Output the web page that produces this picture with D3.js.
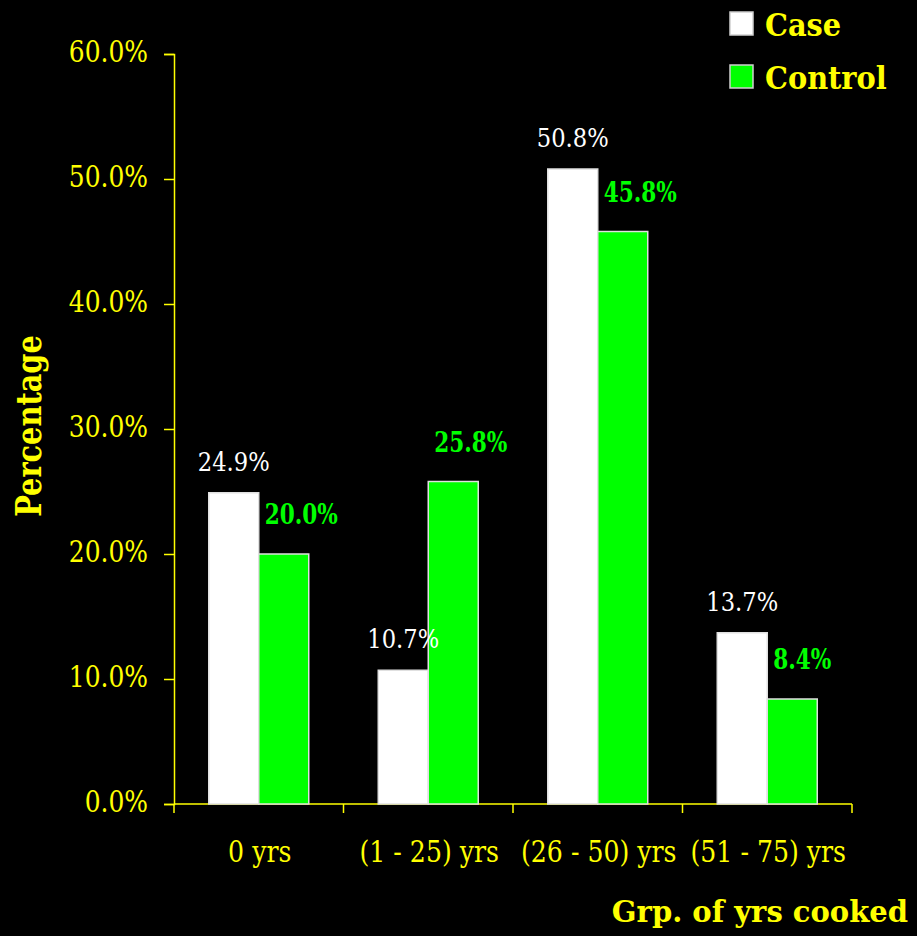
<!DOCTYPE html>
<html>
<head>
<meta charset="utf-8">
<script src="https://cdn.jsdelivr.net/npm/d3@7"></script>
<style>
  html, body { margin: 0; padding: 0; background: #000; }
</style>
</head>
<body>
<div id="chart"></div>
<script>
const categories = ["0 yrs", "(1 - 25) yrs", "(26 - 50) yrs", "(51 - 75) yrs"];
const series = ["Case", "Control"];
const caseValues = [24.9, 10.7, 50.8, 13.7];
const controlValues = [20.0, 25.8, 45.8, 8.4];
const yTicks = [0, 10, 20, 30, 40, 50, 60];

const width = 917, height = 936;
const yellow = "#ffff00";
const colors = { Case: "#ffffff", Control: "#00ff00" };
const serif = "DejaVu Serif";

// DejaVu Serif is wider than the original's Times-like face: squeeze text horizontally
function condense(sel, factor) {
  sel.each(function () {
    const w = this.getComputedTextLength();
    d3.select(this)
      .attr("textLength", w * factor)
      .attr("lengthAdjust", "spacingAndGlyphs");
  });
}

const rows = categories.map((c, i) => ({ cat: c, Case: caseValues[i], Control: controlValues[i] }));

const svg = d3.select("#chart")
  .append("svg")
  .attr("width", width)
  .attr("height", height)
  .attr("font-family", serif);

svg.append("rect").attr("width", width).attr("height", height).attr("fill", "#000");

const x = d3.scaleBand().domain(categories).range([174, 852]);
const groupWidth = 100;
const xSub = d3.scaleBand().domain(series).range([0, groupWidth]);
const y = d3.scaleLinear().domain([0, 60]).range([804, 54]);

// y axis
const yAxis = svg.append("g")
  .attr("transform", "translate(174,0)")
  .call(d3.axisLeft(y).tickValues(yTicks).tickSize(10).tickPadding(16)
    .tickFormat(d => d.toFixed(1) + "%"));
yAxis.attr("font-family", serif);
yAxis.select(".domain").attr("stroke", yellow).attr("stroke-width", 1.5);
yAxis.selectAll(".tick line").attr("stroke", yellow).attr("stroke-width", 1.5);
yAxis.selectAll(".tick text")
  .attr("fill", yellow)
  .attr("font-family", serif)
  .attr("font-size", 29)
  .attr("dy", "0.26em")
  .call(condense, 0.86);

// x axis (ticks at band boundaries)
const xg = svg.append("g").attr("transform", "translate(0,804)");
xg.append("line")
  .attr("x1", x.range()[0]).attr("x2", x.range()[1])
  .attr("stroke", yellow).attr("stroke-width", 1.5);
const bounds = categories.map(c => x(c)).concat([x.range()[1]]);
xg.selectAll(".xt").data(bounds).enter().append("line")
  .attr("x1", d => d).attr("x2", d => d)
  .attr("y1", 0).attr("y2", 9)
  .attr("stroke", yellow).attr("stroke-width", 1.5);
xg.selectAll(".xl").data(categories).enter().append("text")
  .attr("x", d => x(d) + x.bandwidth() / 2 + 1)
  .attr("y", 58)
  .attr("text-anchor", "middle")
  .attr("fill", yellow)
  .attr("font-family", serif)
  .attr("font-size", 30)
  .text(d => d)
  .call(condense, 0.84);

// bars
const groups = svg.selectAll(".grp").data(rows).enter().append("g")
  .attr("transform", d => `translate(${x(d.cat) + (x.bandwidth() - groupWidth) / 2},0)`);

groups.selectAll("rect")
  .data(d => series.map(s => ({ s, v: d[s] })))
  .enter().append("rect")
  .attr("x", d => xSub(d.s))
  .attr("y", d => y(d.v))
  .attr("width", xSub.bandwidth())
  .attr("height", d => y(0) - y(d.v))
  .attr("fill", d => colors[d.s])
  .attr("stroke", "#e0e0e0")
  .attr("stroke-width", 1.5);

// value labels
groups.append("text")
  .attr("x", xSub("Case") + xSub.bandwidth() / 2)
  .attr("y", d => y(d.Case) - 22)
  .attr("text-anchor", "middle")
  .attr("fill", "#ffffff")
  .attr("font-family", serif)
  .attr("font-size", 26)
  .text(d => d.Case.toFixed(1) + "%")
  .call(condense, 0.87);

groups.append("text")
  .attr("x", xSub("Control") + 6)
  .attr("y", d => y(d.Control) - 30)
  .attr("text-anchor", "start")
  .attr("fill", "#00ff00")
  .attr("font-family", serif)
  .attr("font-weight", "bold")
  .attr("font-size", 27)
  .text(d => d.Control.toFixed(1) + "%")
  .call(condense, 0.8);

// legend
const legend = svg.selectAll(".leg").data(series).enter().append("g")
  .attr("transform", (d, i) => `translate(730,${12 + i * 53})`);
legend.append("rect")
  .attr("width", 23).attr("height", 23)
  .attr("fill", d => colors[d])
  .attr("stroke", "#d0d0d0").attr("stroke-width", 1.5);
legend.append("text")
  .attr("x", 35).attr("y", 24)
  .attr("fill", yellow)
  .attr("font-family", serif)
  .attr("font-weight", "bold")
  .attr("font-size", 32)
  .text(d => d)
  .call(condense, 0.9);

// axis titles
svg.append("text")
  .attr("transform", "translate(41,426) rotate(-90)")
  .attr("text-anchor", "middle")
  .attr("fill", yellow)
  .attr("font-family", serif)
  .attr("font-weight", "bold")
  .attr("font-size", 36)
  .text("Percentage")
  .call(condense, 0.8);

svg.append("text")
  .attr("x", 908).attr("y", 922)
  .attr("text-anchor", "end")
  .attr("fill", yellow)
  .attr("font-family", serif)
  .attr("font-weight", "bold")
  .attr("font-size", 29)
  .text("Grp. of yrs cooked");
</script>
</body>
</html>
